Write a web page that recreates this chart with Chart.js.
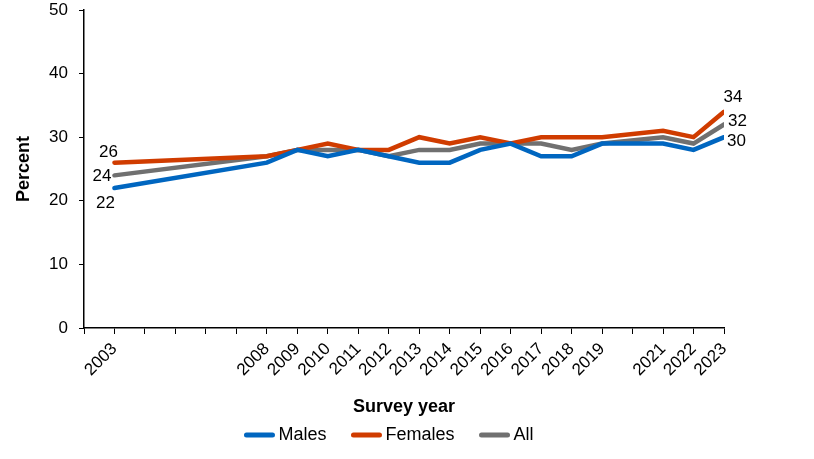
<!DOCTYPE html>
<html>
<head>
<meta charset="utf-8">
<script src="https://cdn.jsdelivr.net/npm/chart.js@4/dist/chart.umd.min.js"></script>
<style>
	html, body { margin: 0; padding: 0; background: #fff; }
	#wrap { width: 814px; height: 459px; }
</style>
</head>
<body>
<div id="wrap"><canvas id="chart"></canvas></div>
<script>
// survey years (2020 was not surveyed)
var years = [ 2003, 2008, 2009, 2010, 2011, 2012, 2013, 2014, 2015, 2016,
		2017, 2018, 2019, 2021, 2022, 2023 ];
var males = [ 22, 26, 28, 27, 28, 27, 26, 26, 28, 29, 27, 27, 29, 29, 28, 30 ];
var females = [ 26, 27, 28, 29, 28, 28, 30, 29, 30, 29, 30, 30, 30, 31, 30, 34 ];
var allAdults = [ 24, 27, 28, 28, 28, 27, 28, 28, 29, 29, 29, 28, 29, 30, 29, 32 ];
var yTicks = [ 0, 10, 20, 30, 40, 50 ];

(function() {
	'use strict';
	var fontFamily = '"Liberation Sans", Arial, sans-serif';

	function toPoints(values) {
		var pts = [];
		for (var i = 0; i < years.length; i++) {
			pts.push({ x : years[i], y : values[i] });
		}
		return pts;
	}

	function makeDataset(label, values, color) {
		return {
			label : label,
			data : toPoints(values),
			borderColor : color,
			backgroundColor : color,
			borderWidth : 4.5,
			pointRadius : 0,
			tension : 0,
			borderCapStyle : 'round',
			borderJoinStyle : 'miter'
		};
	}

	// end labels: first and last value of each series
	// [dx, dy, align] for first point, then for last point
	var endLabelOffsets = [
		[ [ -9, 15, 'center' ], [ 3, 4, 'left' ] ],
		[ [ -6, -10, 'center' ], [ 9, -14, 'center' ] ],
		[ [ -3, 1, 'right' ], [ 4, -3, 'left' ] ]
	];

	var endLabels = {
		id : 'endLabels',
		afterDatasetsDraw : function(chart) {
			var ctx = chart.ctx;
			ctx.save();
			ctx.font = '17px ' + fontFamily;
			ctx.fillStyle = '#000';
			ctx.textBaseline = 'middle';
			chart.data.datasets.forEach(function(ds, i) {
				var meta = chart.getDatasetMeta(i);
				var n = meta.data.length;
				[ 0, n - 1 ].forEach(function(idx, k) {
					var pt = meta.data[idx];
					var off = endLabelOffsets[i][k];
					ctx.textAlign = off[2];
					ctx.fillText(String(ds.data[idx].y), pt.x + off[0], pt.y + off[1]);
				});
			});
			ctx.restore();
		}
	};

	// legend row under the axis title, line sample right against the text
	var lineLegend = {
		id : 'lineLegend',
		afterDraw : function(chart) {
			var ctx = chart.ctx;
			var sets = chart.data.datasets;
			var sample = 30, gapText = 4, gapItem = 25, y = 435;
			ctx.save();
			ctx.font = '18px ' + fontFamily;
			ctx.textBaseline = 'middle';
			ctx.textAlign = 'left';
			var total = 0;
			sets.forEach(function(ds, i) {
				total += sample + gapText + ctx.measureText(ds.label).width;
				if (i < sets.length - 1) {
					total += gapItem;
				}
			});
			var x = 389 - total / 2;
			sets.forEach(function(ds) {
				ctx.strokeStyle = ds.borderColor;
				ctx.lineWidth = 5;
				ctx.lineCap = 'round';
				ctx.beginPath();
				ctx.moveTo(x + 2, y);
				ctx.lineTo(x + sample - 2, y);
				ctx.stroke();
				ctx.fillStyle = '#000';
				ctx.fillText(ds.label, x + sample + gapText, y);
				x += sample + gapText + ctx.measureText(ds.label).width + gapItem;
			});
			ctx.restore();
		}
	};

	var ctx = document.getElementById('chart');
	new Chart(ctx, {
		type : 'line',
		data : {
			datasets : [ makeDataset('Males', males, '#0066C0'),
					makeDataset('Females', females, '#D03C00'),
					makeDataset('All', allAdults, '#707070') ]
		},
		options : {
			responsive : true,
			maintainAspectRatio : false,
			animation : false,
			layout : {
				autoPadding : false,
				padding : { left : 0, right : 90, top : 0, bottom : 41 }
			},
			plugins : {
				legend : { display : false },
				tooltip : { enabled : false }
			},
			scales : {
				x : {
					type : 'linear',
					min : 2002,
					max : 2023,
					afterBuildTicks : function(scale) {
						var t = [];
						for (var y = 2002; y <= 2023; y++) {
							t.push({ value : y });
						}
						scale.ticks = t;
					},
					afterFit : function(scale) {
						scale.height = 90;
					},
					grid : {
						drawOnChartArea : false,
						drawTicks : true,
						tickLength : 6,
						color : '#000'
					},
					border : { color : '#000', width : 1.5 },
					ticks : {
						autoSkip : false,
						maxRotation : 45,
						minRotation : 45,
						padding : 5,
						color : '#000',
						font : { family : fontFamily, size : 17 },
						callback : function(value) {
							return years.indexOf(value) >= 0 ? String(value) : '';
						}
					},
					title : {
						display : true,
						text : 'Survey year',
						color : '#000',
						padding : { top : 0, bottom : 0 },
						font : { family : fontFamily, size : 18, weight : 'bold' }
					}
				},
				y : {
					min : 0,
					max : 50,
					afterBuildTicks : function(scale) {
						scale.ticks = yTicks.map(function(v) {
							return { value : v };
						});
					},
					afterFit : function(scale) {
						scale.width = 84;
						scale.paddingTop = 10;
						scale.paddingBottom = 0;
					},
					grid : {
						drawOnChartArea : false,
						drawTicks : true,
						tickLength : 5,
						color : '#000'
					},
					border : { color : '#000', width : 1.5 },
					ticks : {
						padding : 11,
						color : '#000',
						font : { family : fontFamily, size : 17 }
					},
					title : {
						display : true,
						text : 'Percent',
						color : '#000',
						padding : { top : 13, bottom : 0 },
						font : { family : fontFamily, size : 18, weight : 'bold' }
					}
				}
			}
		},
		plugins : [ endLabels, lineLegend ]
	});
})();
</script>
</body>
</html>
